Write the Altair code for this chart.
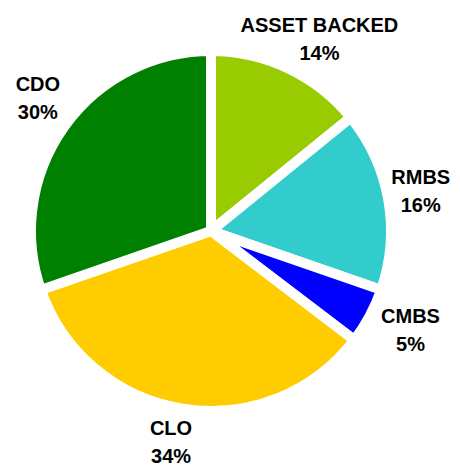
import altair as alt
import pandas as pd

categories = ["ASSET BACKED", "RMBS", "CMBS", "CLO", "CDO"]
shares = [14, 16, 5, 34, 30]
colors = ["#99CC00", "#33CCCC", "#0000FF", "#FFCC00", "#008000"]

# label nudges (pixels), mimicking the spreadsheet's box-based label placement
label_nudge = {
    "ASSET BACKED": (16, 3),
    "RMBS": (-2, -2),
    "CMBS": (10, -2),
    "CLO": (-6, 0),
    "CDO": (2, -7),
}

df = pd.DataFrame({
    "category": categories,
    "share": shares,
    "idx": list(range(len(categories))),
    "label": [f"{c}\n{s}%" for c, s in zip(categories, shares)],
})

base = alt.Chart(df).encode(
    theta=alt.Theta("share:Q", stack=True),
    order=alt.Order("idx:Q"),
)

pie = base.mark_arc(outerRadius=180, stroke="white", strokeWidth=10, strokeJoin="miter").encode(
    color=alt.Color("category:N",
                    scale=alt.Scale(domain=categories, range=colors),
                    legend=None),
)

layers = [pie]
for cat in categories:
    ndx, ndy = label_nudge[cat]
    layers.append(
        base.mark_text(radius=215, fontSize=20, fontWeight="bold",
                       font="Liberation Sans", color="black",
                       lineBreak="\n", lineHeight=28, dx=ndx, dy=-14 + ndy,
                       align="center", baseline="middle").encode(
            text="label:N",
            opacity=alt.condition(alt.datum.category == cat, alt.value(1), alt.value(0)),
        )
    )

chart = alt.layer(*layers).properties(
    width=406, height=446,
    autosize=alt.AutoSizeParams(type="none"),
    padding={"left": 0, "top": 0, "right": 38, "bottom": 12},
    background="white",
).configure_view(stroke=None)

chart.save("out.html", embed_options={"renderer": "svg", "actions": False})
